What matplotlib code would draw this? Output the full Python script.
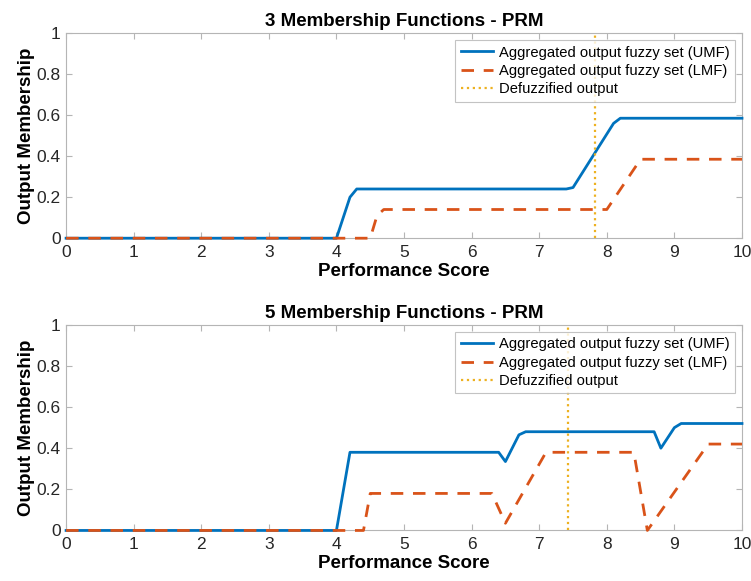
import matplotlib
matplotlib.use("Agg")
import matplotlib.pyplot as plt

plt.rcParams.update({
    "font.family": ["Liberation Sans", "DejaVu Sans"],
    "font.size": 12.5,
    "axes.edgecolor": "#b5b5b5",
    "axes.linewidth": 0.8,
    "xtick.direction": "in",
    "ytick.direction": "in",
    "xtick.top": True,
    "ytick.right": True,
    "xtick.color": "#b5b5b5",
    "ytick.color": "#b5b5b5",
    "xtick.labelcolor": "#262626",
    "ytick.labelcolor": "#262626",
    "xtick.major.size": 4,
    "ytick.major.size": 4,
    "xtick.major.pad": 5,
    "ytick.major.pad": 4,
})

# 3 membership functions
x3_umf = [0, 4.0, 4.2, 4.3, 7.4, 7.5, 8.1, 8.2, 10]
y3_umf = [0, 0, 0.20, 0.24, 0.24, 0.247, 0.56, 0.585, 0.585]
x3_lmf = [0, 4.5, 4.6, 4.7, 8.0, 8.5, 10]
y3_lmf = [0, 0, 0.11, 0.14, 0.14, 0.385, 0.385]
defuzz3 = 7.82

# 5 membership functions
x5_umf = [0, 4.0, 4.2, 6.4, 6.5, 6.7, 6.8, 8.7, 8.8, 9.0, 9.1, 10]
y5_umf = [0, 0, 0.38, 0.38, 0.335, 0.465, 0.48, 0.48, 0.40, 0.50, 0.52, 0.52]
x5_lmf = [0, 4.4, 4.5, 6.3, 6.5, 7.1, 8.4, 8.6, 9.5, 10]
y5_lmf = [0, 0, 0.18, 0.18, 0.035, 0.38, 0.38, 0.0, 0.42, 0.42]
defuzz5 = 7.43

panels = [
    ("3 Membership Functions - PRM", x3_umf, y3_umf, x3_lmf, y3_lmf, defuzz3),
    ("5 Membership Functions - PRM", x5_umf, y5_umf, x5_lmf, y5_lmf, defuzz5),
]

BLUE, ORANGE, YELLOW = "#0072BD", "#D95319", "#EDB120"

fig = plt.figure(figsize=(7.51, 5.81), dpi=100)
rects = [[0.088, 0.590, 0.900, 0.353], [0.088, 0.087, 0.900, 0.354]]

for rect, (title, xu, yu, xl, yl, d) in zip(rects, panels):
    ax = fig.add_axes(rect)
    ax.plot(xu, yu, color=BLUE, lw=2, clip_on=False, zorder=3,
            label="Aggregated output fuzzy set (UMF)")
    ax.plot(xl, yl, color=ORANGE, lw=2, ls=(0, (4.5, 3.5)), clip_on=False, zorder=3,
            label="Aggregated output fuzzy set (LMF)")
    ax.axvline(d, color=YELLOW, lw=1.6, ls=":", zorder=3, label="Defuzzified output")
    ax.set_xlim(0, 10)
    ax.set_ylim(0, 1)
    ax.set_xticks(range(0, 11))
    ax.set_yticks([0, 0.2, 0.4, 0.6, 0.8, 1])
    ax.set_yticklabels(["0", "0.2", "0.4", "0.6", "0.8", "1"])
    ax.set_title(title, fontsize=13.5, fontweight="bold", pad=5)
    ax.set_xlabel("Performance Score", fontsize=13.5, fontweight="bold", labelpad=2)
    ax.set_ylabel("Output Membership", fontsize=13.5, fontweight="bold", labelpad=1)
    leg = ax.legend(loc="upper right", fontsize=10.6, fancybox=False,
                    borderaxespad=0.5, handlelength=2.2, handletextpad=0.4,
                    labelspacing=0.3, borderpad=0.35)
    leg.get_frame().set_edgecolor("#b5b5b5")
    leg.get_frame().set_linewidth(0.8)
    leg.set_zorder(5)

fig.savefig("out.png", dpi=100)
